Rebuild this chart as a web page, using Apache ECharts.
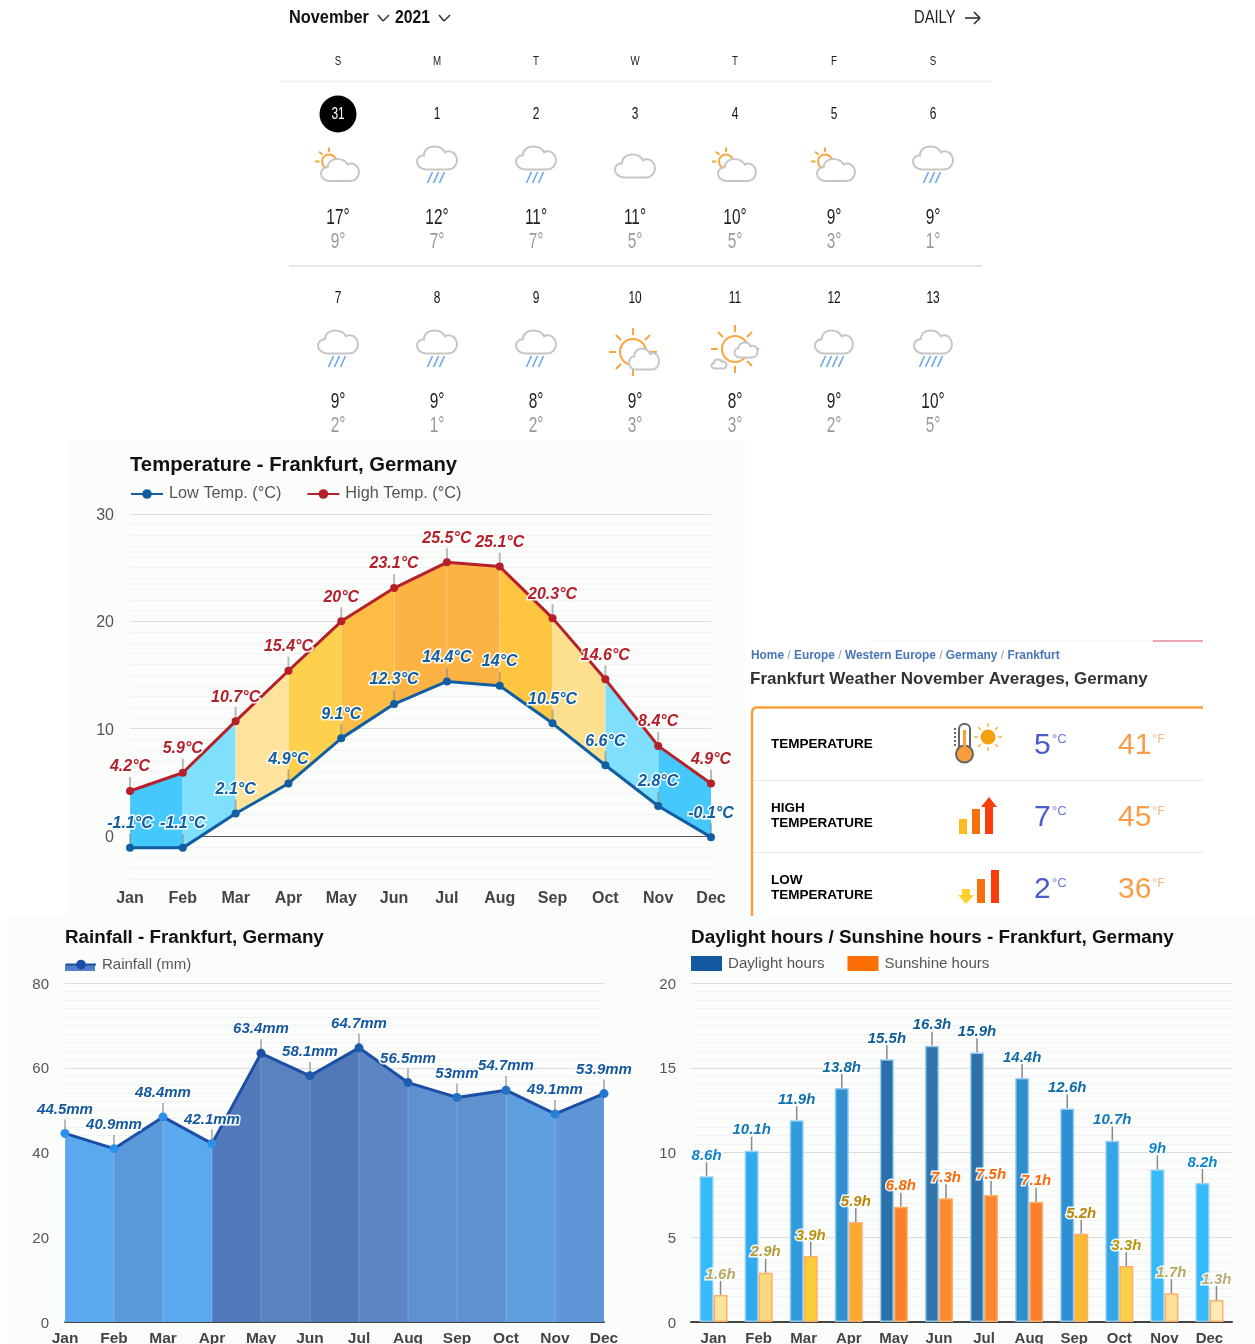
<!DOCTYPE html>
<html>
<head>
<meta charset="utf-8">
<title>Frankfurt weather</title>
<script src="https://cdn.jsdelivr.net/npm/echarts@6/dist/echarts.min.js"></script>
<style>
  html, body { margin: 0; padding: 0; background: #fff; }
  #main { width: 1255px; height: 1344px; }
</style>
</head>
<body>
<div id="main"></div>
<script>
const months = ['Jan', 'Feb', 'Mar', 'Apr', 'May', 'Jun', 'Jul', 'Aug', 'Sep', 'Oct', 'Nov', 'Dec'];

const lowTemp = [-1.1, -1.1, 2.1, 4.9, 9.1, 12.3, 14.4, 14, 10.5, 6.6, 2.8, -0.1];
const highTemp = [4.2, 5.9, 10.7, 15.4, 20, 23.1, 25.5, 25.1, 20.3, 14.6, 8.4, 4.9];
const rainfall = [44.5, 40.9, 48.4, 42.1, 63.4, 58.1, 64.7, 56.5, 53, 54.7, 49.1, 53.9];
const daylight = [8.6, 10.1, 11.9, 13.8, 15.5, 16.3, 15.9, 14.4, 12.6, 10.7, 9, 8.2];
const sunshine = [1.6, 2.9, 3.9, 5.9, 6.8, 7.3, 7.5, 7.1, 5.2, 3.3, 1.7, 1.3];

const weekDays = ['S', 'M', 'T', 'W', 'T', 'F', 'S'];
const calDays = [31, 1, 2, 3, 4, 5, 6, 7, 8, 9, 10, 11, 12, 13];
const calHighs = [17, 12, 11, 11, 10, 9, 9, 9, 9, 8, 9, 8, 9, 10];
const calLows = [9, 7, 7, 5, 5, 3, 1, 2, 1, 2, 3, 3, 2, 5];
const calIcons = ['sunCloud', 'rain', 'rain', 'cloud', 'sunCloud', 'sunCloud', 'rain',
  'rain', 'rain', 'rain', 'sunBig', 'sunClouds', 'rain4', 'rain4'];

const tableLabels = [['TEMPERATURE'], ['HIGH', 'TEMPERATURE'], ['LOW', 'TEMPERATURE']];
const tableC = ['5', '7', '2'];
const tableF = ['41', '45', '36'];

// colours per month interval / per month
const tempBandColors = ['#45c9fc', '#7fe0fe', '#fde39c', '#fdd14e', '#fdbc44', '#fdb344', '#fdb344', '#fdc540', '#fddf90', '#7fe0fe', '#45c9fc'];
const rainBandColors = ['#5ca8ee', '#5a9adb', '#5ca8ee', '#5379ba', '#5a82bf', '#5279b7', '#5b85c3', '#5f90d0', '#5f90d0', '#5f9edf', '#5f96d8'];
const rainLineColors = ['#2d90e8', '#2d90e8', '#2d90e8', '#1a4fa5', '#1f5aad', '#1f5aad', '#1f5aad', '#2372c6', '#2372c6', '#2580d6', '#2378cc'];
const dayBarColors = ['#36baf9', '#30aaec', '#309cdd', '#2f8fd0', '#2b71a9', '#3375aa', '#2f70a6', '#2f8dcb', '#2f90d1', '#33a6e6', '#36baf9', '#36baf9'];
const sunBarColors = ['#fde39c', '#fdd87a', '#fdcb36', '#fdaa30', '#fc802c', '#fd8a30', '#fd8530', '#fc802c', '#fdb92f', '#fdd04a', '#fde09a', '#fdeab5'];
const dayLabelColors = ['#0f86c8', '#0f78b8', '#0f70ae', '#0f6aa6', '#0f5c98', '#0f5c98', '#0f5c98', '#0f6aa6', '#0f6aa6', '#0f78b8', '#0f86c8', '#0f86c8'];
const sunLabelColors = ['#b8a860', '#b29c3c', '#b8900f', '#b8860b', '#fb6a0a', '#fb6a0a', '#fb6a0a', '#fb6a0a', '#b8860b', '#b8960b', '#b8a860', '#b8ae7c'];

const FONT = '"Liberation Sans", Arial, sans-serif';
const MONTH_BLUE = '#115ea3';
const RED = '#b5202a';
const HALO = 'rgba(255,255,255,0.9)';

const chart = echarts.init(document.getElementById('main'));

// grid line colours: one per tick, because major lines differ from minor ones
function lineColors(count, isMajor, zeroIndex) {
  const out = [];
  for (let i = 0; i < count; i++) {
    if (i === zeroIndex) out.push('#555555');
    else out.push(isMajor(i) ? '#dddddd' : '#f3f1f5');
  }
  return out;
}

function makeYAxis(gridIndex, min, max, interval, colors, labelEvery, margin, fontSize) {
  return {
    type: 'value', gridIndex, min, max, interval,
    axisLine: { show: false }, axisTick: { show: false },
    axisLabel: {
      margin, color: '#555', fontSize, fontFamily: FONT,
      formatter: v => (v % labelEvery === 0 ? '{v|' + v + '}' : ''),
      // rich block with extra top padding pushes the number down a little
      rich: { v: { color: '#555', fontSize, fontFamily: FONT, padding: [3, 0, 0, 0] } }
    },
    splitLine: { lineStyle: { color: colors, width: 1 } }
  };
}

function makeXAxis(gridIndex, boundaryGap, lineShown, margin, fontSize) {
  return {
    type: 'category', gridIndex, data: months, boundaryGap,
    axisLine: { show: lineShown, onZero: false, lineStyle: { color: '#444', width: 2 } },
    axisTick: { show: false },
    axisLabel: { margin, color: '#444', fontSize, fontWeight: 'bold', fontFamily: FONT, interval: 0 },
    splitLine: { show: false }
  };
}

// filled polygon between two value lists, one colour per month interval
function bandSeries(gridIndex, lower, upper, colors) {
  return {
    type: 'custom', xAxisIndex: gridIndex, yAxisIndex: gridIndex, z: 1, silent: true,
    encode: { x: 0, y: 1 },
    data: colors.map((c, i) => [i, upper[i]]),
    renderItem: (params, api) => {
      const i = params.dataIndex;
      const a = api.coord([i, lower ? lower[i] : 0]);
      const b = api.coord([i, upper[i]]);
      const c = api.coord([i + 1, upper[i + 1]]);
      const d = api.coord([i + 1, lower ? lower[i + 1] : 0]);
      return {
        type: 'group',
        children: [
          { type: 'polygon', shape: { points: [a, b, c, d] }, style: { fill: colors[i] } },
          { type: 'line', shape: { x1: a[0], y1: a[1], x2: b[0], y2: b[1] }, style: { stroke: 'rgba(255,255,255,0.14)', lineWidth: 1.5 } }
        ]
      };
    }
  };
}

// short grey stem between a point and its label
function stemSeries(gridIndex, values, color, width, len, xOffset) {
  return {
    type: 'custom', xAxisIndex: gridIndex, yAxisIndex: gridIndex, z: 2, silent: true,
    encode: { x: 0, y: 1 },
    data: values.map((v, i) => [i, v]),
    renderItem: (params, api) => {
      const p = api.coord([api.value(0), api.value(1)]);
      return {
        type: 'line',
        shape: { x1: p[0] + xOffset, y1: p[1], x2: p[0] + xOffset, y2: p[1] - len },
        style: { stroke: color, lineWidth: width }
      };
    }
  };
}

function lineSeries(name, gridIndex, values, color, unit, labelColor, fontSize, size) {
  return {
    name, type: 'line', xAxisIndex: gridIndex, yAxisIndex: gridIndex, z: 3,
    data: values, symbol: 'circle', symbolSize: size,
    itemStyle: { color }, lineStyle: { color, width: 3 },
    label: {
      show: true, position: 'top', distance: 12,
      formatter: p => p.value + unit,
      color: labelColor, fontSize, fontWeight: 'bold', fontStyle: 'italic', fontFamily: FONT,
      textBorderColor: HALO, textBorderWidth: 3
    }
  };
}

function barSeries(name, values, barColors, labelColors, color, borderColor) {
  return {
    name, type: 'bar', xAxisIndex: 2, yAxisIndex: 2, z: 3,
    barWidth: 14, barGap: 0,
    itemStyle: { color },
    data: values.map((v, i) => ({
      value: v,
      itemStyle: { color: barColors[i], borderColor, borderWidth: 1.5 },
      label: { color: labelColors[i] }
    })),
    label: {
      show: true, position: 'top', distance: 13,
      formatter: p => p.value + 'h',
      fontSize: 15, fontWeight: 'bold', fontStyle: 'italic', fontFamily: FONT,
      textBorderColor: HALO, textBorderWidth: 3
    }
  };
}

// ---- calendar and side panel drawing helpers ----
function text(x, y, str, font, fill, align) {
  return { type: 'text', x, y: y + 1, z: 5, silent: true, style: { text: str, font, fill, align: align || 'center', verticalAlign: 'middle' } };
}
// the calendar font is condensed, so squeeze the text horizontally
function narrow(x, y, str, font, fill, align, squeeze) {
  const el = text(x, y, str, font + ' ' + FONT, fill, align);
  el.scaleX = squeeze;
  return el;
}
function line(x1, y1, x2, y2, stroke, lineWidth) {
  return { type: 'line', z: 5, silent: true, shape: { x1, y1, x2, y2 }, style: { stroke, lineWidth } };
}
function rect(x, y, width, height, fill, z) {
  return { type: 'rect', z: z === undefined ? 5 : z, silent: true, shape: { x, y, width, height }, style: { fill } };
}
function poly(points, fill) {
  return { type: 'polygon', z: 5, silent: true, shape: { points }, style: { fill } };
}

const colX = [338, 437, 536, 635, 735, 834, 933];
const rowY = [114, 298];
const graphics = [];

// pale page areas behind the charts
graphics.push(rect(68, 440, 677, 475, '#fbfdfb', -10));
graphics.push(rect(8, 915, 1247, 429, '#fbfdfb', -10));
graphics.push(rect(65, 964, 30, 7, '#4f7fc4', -1));

graphics.push(narrow(289, 17, 'November', 'bold 19px', '#111', 'left', 0.86));
graphics.push(line(378, 15, 383, 21, '#333', 1.5), line(383, 21, 389, 15, '#333', 1.5));
graphics.push(narrow(395, 17, '2021', 'bold 19px', '#111', 'left', 0.83));
graphics.push(line(439, 15, 444, 21, '#333', 1.5), line(444, 21, 450, 15, '#333', 1.5));
graphics.push(narrow(914, 17, 'DAILY', '18px', '#222', 'left', 0.82));
graphics.push(line(965, 18, 980, 18, '#222', 1.5), line(974, 12, 980, 18, '#222', 1.5), line(974, 24, 980, 18, '#222', 1.5));

weekDays.forEach((d, i) => graphics.push(narrow(colX[i], 60, d, '13px', '#222', 'center', 0.75)));
graphics.push(line(281, 81.5, 991, 81.5, '#f1f1f1', 2));
graphics.push(line(289, 266, 982, 266, '#e6e6e6', 2));
graphics.push({ type: 'circle', z: 5, silent: true, shape: { cx: 338, cy: 114, r: 18.5 }, style: { fill: '#000' } });

calDays.forEach((d, i) => {
  const c = colX[i % 7];
  const r = rowY[Math.floor(i / 7)];
  graphics.push(narrow(c, r - 1, String(d), '17px', i === 0 ? '#fff' : '#111', 'center', 0.7));
  graphics.push(narrow(c, r + 103, calHighs[i] + '°', '22px', '#222', 'center', 0.7));
  graphics.push(narrow(c, r + 127, calLows[i] + '°', '22px', '#999', 'center', 0.7));
});

// side panel
graphics.push(line(868, 641, 1153, 641, '#f2f2f2', 1), line(1153, 641, 1203, 641, '#e04a68', 1));
graphics.push({
  type: 'text', x: 751, y: 656, z: 5, silent: true,
  style: {
    text: '{a|Home} {b|/} {a|Europe} {b|/} {a|Western Europe} {b|/} {a|Germany} {b|/} {a|Frankfurt}',
    align: 'left', verticalAlign: 'middle',
    rich: {
      a: { font: 'bold 11.9px ' + FONT, fill: '#4a76b8' },
      b: { font: '11.9px ' + FONT, fill: '#8a9ab5' }
    }
  }
});
graphics.push(text(750, 678, 'Frankfurt Weather November Averages, Germany', 'bold 17px ' + FONT, '#333', 'left'));
graphics.push({
  type: 'polyline', z: 5, silent: true,
  shape: { points: [[752, 916], [752, 712], [753, 709], [756, 707.5], [1203, 707.5]] },
  style: { stroke: '#fa9f3e', lineWidth: 2.5, fill: 'none' }
});
graphics.push(line(753, 780.5, 1203, 780.5, '#ececec', 1), line(753, 852.5, 1203, 852.5, '#ececec', 1));

const tableY = [744, 816, 888];
tableLabels.forEach((lines, i) => {
  lines.forEach((s, j) => {
    const y = lines.length === 1 ? tableY[i] - 1 : tableY[i] - 9 + j * 15.5;
    graphics.push(text(771, y, s, 'bold 13.5px ' + FONT, '#000', 'left'));
  });
  graphics.push(text(1034, tableY[i] + 1, tableC[i], '30px ' + FONT, '#4a5bcf', 'left'));
  graphics.push(text(1052, tableY[i] - 6, '°C', '13px ' + FONT, '#6a78d8', 'left'));
  graphics.push(text(1118, tableY[i] + 1, tableF[i], '30px ' + FONT, '#fa9d48', 'left'));
  graphics.push(text(1152, tableY[i] - 6, '°F', '13px ' + FONT, '#fbb67a', 'left'));
});

// thermometer and sun
[728, 732, 736, 740, 744].forEach(y => graphics.push(rect(954, y, 2, 2, '#666')));
graphics.push({ type: 'rect', z: 5, silent: true, shape: { x: 959, y: 724, width: 11, height: 32, r: 5 }, style: { fill: '#fff', stroke: '#666', lineWidth: 2 } });
graphics.push({ type: 'circle', z: 5, silent: true, shape: { cx: 964.5, cy: 754, r: 8.5 }, style: { fill: '#fa9d3c', stroke: '#666', lineWidth: 2 } });
graphics.push(rect(963, 730, 3, 20, '#fa9d3c'));
graphics.push({ type: 'circle', z: 5, silent: true, shape: { cx: 988, cy: 737, r: 7.5 }, style: { fill: '#f5a010' } });
for (let k = 0; k < 8; k++) {
  const a = k * Math.PI / 4;
  graphics.push(line(988 + 10 * Math.cos(a), 737 + 10 * Math.sin(a), 988 + 14 * Math.cos(a), 737 + 14 * Math.sin(a), '#f8b84a', 1.5));
}
// high temperature bars
graphics.push(rect(959, 819, 8, 15, '#fdbb22'), rect(972, 809, 8, 25, '#f7700e'), rect(985, 806, 8, 28, '#fb3d0d'));
graphics.push(poly([[981, 807], [989, 797], [997, 807]], '#fb3d0d'));
// low temperature bars
graphics.push(rect(962, 889, 8, 7, '#fdd02c'), poly([[958, 895], [974, 895], [966, 904]], '#fdd02c'));
graphics.push(rect(977, 879, 8, 24, '#f7700e'), rect(991, 870, 8, 33, '#fb3d0d'));

// ---- weather icons of the calendar ----
const cloudPath = 'M-11 12C-16 12-20 8-20 4C-20 0-17-3-13-3C-13-8-9-12-3-12C2-12 6-10 8-6C9-7 10-7 12-7C16-7 20-3 20 2C20 8 16 12 11 12Z';

function cloud(cx, cy, w, h) {
  return {
    type: 'path',
    shape: { pathData: cloudPath, x: cx - w / 2, y: cy - h / 2, width: w, height: h, layout: 'cover' },
    style: { fill: '#fff', stroke: '#c6c6c6', lineWidth: 2 }
  };
}
function sun(cx, cy, r, rays, rayIn, rayOut, from, to) {
  const out = [{ type: 'circle', shape: { cx, cy, r }, style: { fill: 'none', stroke: '#f9a640', lineWidth: 2 } }];
  for (let k = from; k <= to; k++) {
    const a = k * Math.PI / rays;
    out.push({
      type: 'line',
      shape: { x1: cx + rayIn * Math.cos(a), y1: cy + rayIn * Math.sin(a), x2: cx + rayOut * Math.cos(a), y2: cy + rayOut * Math.sin(a) },
      style: { stroke: '#f9a640', lineWidth: 2 }
    });
  }
  return out;
}
function drops(cx, cy, n) {
  const out = [];
  for (let k = 0; k < n; k++) {
    const x = cx + (k - (n - 1) / 2) * 6;
    out.push({ type: 'line', shape: { x1: x + 2.5, y1: cy - 5.5, x2: x - 2.5, y2: cy + 5.5 }, style: { stroke: '#6aa6ea', lineWidth: 1.6 } });
  }
  return out;
}
function iconParts(kind, c, r) {
  // r is the row's day number line
  if (kind === 'rain') return [cloud(c, r + 44, 40, 23)].concat(drops(c - 1, r + 63.5, 3));
  if (kind === 'rain4') return [cloud(c, r + 44, 38, 23)].concat(drops(c - 2, r + 63.5, 4));
  if (kind === 'cloud') return [cloud(c, r + 52, 40, 23)];
  if (kind === 'sunCloud') return sun(c - 9, r + 47.5, 7, 4, 9.5, 14, 4, 6).concat([cloud(c + 2, r + 56, 38, 22)]);
  if (kind === 'sunBig') return sun(c - 2, r + 54, 13, 4, 17, 24, 0, 7).concat([cloud(c + 9, r + 61, 30, 21)]);
  return sun(c, r + 51, 13, 4, 17, 24, 0, 7).concat([cloud(c + 11, r + 52, 23, 15), cloud(c - 16, r + 66, 15, 9)]);
}

const iconSeries = {
  type: 'custom', coordinateSystem: 'none', silent: true, z: 5,
  data: calIcons.map((k, i) => [i]),
  renderItem: params => {
    const i = params.dataIndex;
    return { type: 'group', children: iconParts(calIcons[i], colX[i % 7], rowY[Math.floor(i / 7)]) };
  }
};

const series = [
  bandSeries(0, lowTemp, highTemp, tempBandColors),
  stemSeries(0, lowTemp, 'rgba(130,130,130,0.55)', 2, 14, 0),
  stemSeries(0, highTemp, 'rgba(130,130,130,0.55)', 2, 14, 0),
  lineSeries('Low Temp. (°C)', 0, lowTemp, MONTH_BLUE, '°C', MONTH_BLUE, 16, 8),
  lineSeries('High Temp. (°C)', 0, highTemp, RED, '°C', RED, 16, 8),
  bandSeries(1, null, rainfall, rainBandColors),
  stemSeries(1, rainfall, 'rgba(130,130,130,0.55)', 2, 14, 0),
  lineSeries('Rainfall (mm)', 1, rainfall, '#1a4fa5', 'mm', '#14589f', 15, 9),
  stemSeries(2, daylight, '#888', 1.5, 14, -7),
  stemSeries(2, sunshine, '#888', 1.5, 14, 7),
  barSeries('Daylight hours', daylight, dayBarColors, dayLabelColors, '#14589f', 'rgba(150,205,240,0.9)'),
  barSeries('Sunshine hours', sunshine, sunBarColors, sunLabelColors, '#fd6f05', '#fbb06a'),
  iconSeries
];

const rainIndex = series.findIndex(s => s.name === 'Rainfall (mm)');

function titleAt(textStr, left, top, fontSize) {
  return { text: textStr, left, top, padding: 0, textStyle: { color: '#111', fontSize, fontWeight: 'bold', fontFamily: FONT } };
}
function legendAt(data, left, top, itemWidth, itemHeight, itemGap, fontSize, icon) {
  return {
    data, left, top, padding: 0, itemWidth, itemHeight, itemGap, orient: 'horizontal', icon,
    selectedMode: false,
    textStyle: { color: '#555', fontSize, fontFamily: FONT, padding: [1, 0, 0, 1] }
  };
}

chart.setOption({
  animation: false,
  backgroundColor: '#fff',
  textStyle: { fontFamily: FONT },
  title: [
    titleAt('Temperature - Frankfurt, Germany', 130, 455, 20.25),
    titleAt('Rainfall - Frankfurt, Germany', 65, 928, 18.8),
    titleAt('Daylight hours / Sunshine hours - Frankfurt, Germany', 691, 928, 18.9)
  ],
  legend: [
    legendAt(['Low Temp. (°C)', 'High Temp. (°C)'], 130, 486, 32, 12, 25, 16.3),
    legendAt(['Rainfall (mm)'], 65, 957, 30, 12, 25, 15),
    legendAt(['Daylight hours', 'Sunshine hours'], 691, 956, 31, 15, 23, 15.1, 'rect')
  ],
  grid: [
    { left: 130, top: 514, width: 581, height: 365, outerBoundsMode: 'none' },
    { left: 65, top: 983, width: 539, height: 339, outerBoundsMode: 'none' },
    { left: 691, top: 983, width: 541, height: 339, outerBoundsMode: 'none' }
  ],
  xAxis: [
    makeXAxis(0, false, false, 12, 16),
    makeXAxis(1, false, true, 9, 15.5),
    makeXAxis(2, true, true, 9, 15)
  ],
  yAxis: [
    makeYAxis(0, -4, 30, 1, lineColors(35, i => (i - 4) % 10 === 0, 4), 10, 16, 16),
    makeYAxis(1, 0, 80, 2, lineColors(41, i => i % 10 === 0, -1), 20, 16, 15),
    makeYAxis(2, 0, 20, 0.5, lineColors(41, i => i % 10 === 0, -1), 5, 15, 15)
  ],
  visualMap: [{
    show: false, type: 'piecewise', dimension: 0, seriesIndex: rainIndex,
    pieces: rainLineColors.map((color, i) => (i === 0
      ? { gte: 0, lte: 1, color }
      : { gt: i, lte: i + 1, color }))
  }],
  graphic: { elements: graphics },
  series
});
</script>
</body>
</html>
